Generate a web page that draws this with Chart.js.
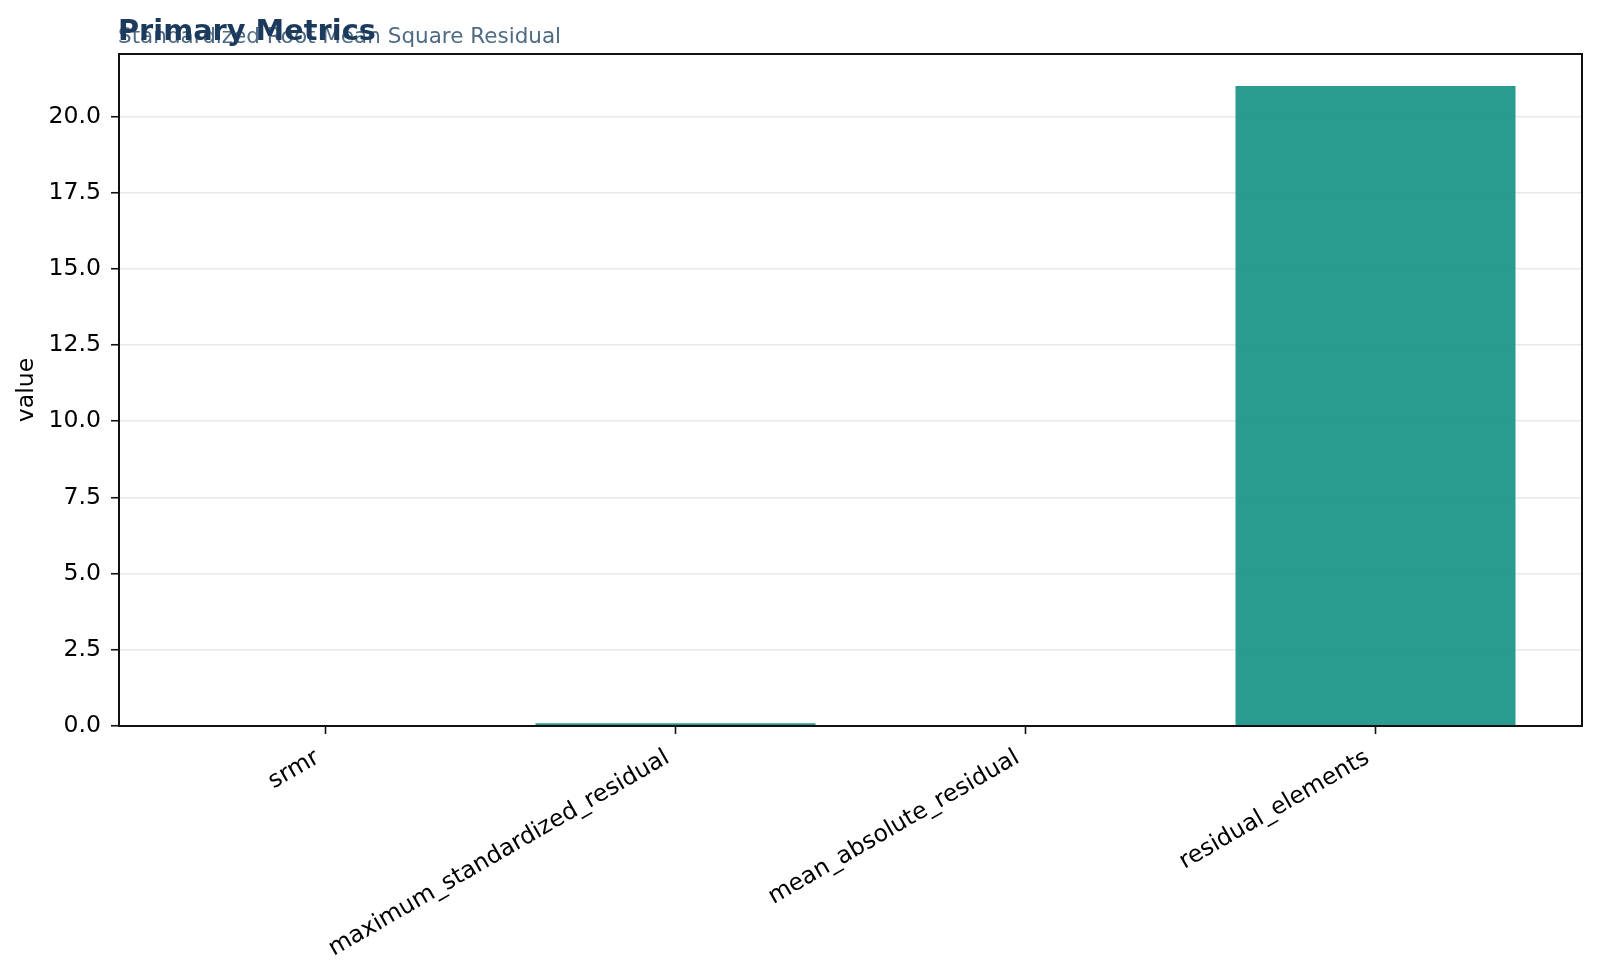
<!DOCTYPE html>
<html>
<head>
<meta charset="utf-8">
<title>Primary Metrics</title>
<script src="https://cdn.jsdelivr.net/npm/chart.js@4.4.1/dist/chart.umd.min.js"></script>
<style>
  html, body { margin: 0; padding: 0; background: #fff; }
  canvas { display: block; }
</style>
</head>
<body>
<canvas id="metricsChart" width="1600" height="978"></canvas>
<script>
// metrics shown on the x axis
const metricNames = [
  'srmr',
  'maximum_standardized_residual',
  'mean_absolute_residual',
  'residual_elements',
];
// values
const metricValues = [0.03, 0.09, 0.02, 21];
const yTickValues = [0, 2.5, 5, 7.5, 10, 12.5, 15, 17.5, 20];

const chartTitle = 'Primary Metrics';
const chartSubtitle = 'Standardized Root Mean Square Residual';

const FONT = '"DejaVu Sans", "Liberation Sans", sans-serif';
const TICK_SIZE = 23.6;

// matplotlib-like title pair + full frame round the plot
const framePlugin = {
  id: 'frame',
  afterDatasetsDraw(chart) {
    const { ctx, chartArea } = chart;
    ctx.save();
    ctx.strokeStyle = '#111';
    ctx.lineWidth = 2;
    ctx.strokeRect(chartArea.left, chartArea.top,
      chartArea.right - chartArea.left, chartArea.bottom - chartArea.top);
    ctx.restore();
  },
  afterDraw(chart) {
    const { ctx } = chart;
    ctx.save();
    ctx.textAlign = 'left';
    ctx.textBaseline = 'alphabetic';
    ctx.fillStyle = '#4f6b84';
    ctx.font = '21.5px ' + FONT;
    ctx.fillText(chartSubtitle, 118, 43);
    ctx.fillStyle = '#1b3a5c';
    ctx.font = 'bold 28.8px ' + FONT;
    ctx.fillText(chartTitle, 118, 40);
    ctx.restore();
  },
};

const ctx = document.getElementById('metricsChart').getContext('2d');
new Chart(ctx, {
  type: 'bar',
  data: {
    datasets: [
      {
        label: 'value',
        data: metricValues.map((v, i) => ({ x: i, y: v })),
        backgroundColor: 'rgba(23, 148, 133, 0.92)',
        borderWidth: 0,
        barPercentage: 0.8,
        categoryPercentage: 1,
      },
    ],
  },
  options: {
    responsive: false,
    animation: false,
    devicePixelRatio: 1,
    layout: { padding: { top: 54, right: 18, left: 0, bottom: 0 } },
    plugins: {
      legend: { display: false },
      tooltip: { enabled: false },
    },
    scales: {
      x: {
        type: 'linear',
        min: -0.59,
        max: 3.59,
        offset: false,
        afterBuildTicks: scale => {
          scale.ticks = metricNames.map((_, i) => ({ value: i }));
        },
        afterFit: scale => {
          scale.height = 252;
        },
        grid: {
          offset: false,
          drawOnChartArea: false,
          drawTicks: true,
          tickLength: 8,
          tickColor: '#111',
          tickWidth: 1.6,
        },
        border: { color: '#111', width: 2 },
        ticks: {
          autoSkip: false,
          minRotation: 30,
          maxRotation: 30,
          padding: 10,
          labelOffset: -8,
          color: '#000',
          font: { family: FONT, size: TICK_SIZE },
          callback: value => metricNames[value],
        },
      },
      y: {
        min: 0,
        max: 22.05,
        afterBuildTicks: scale => {
          scale.ticks = yTickValues.map(v => ({ value: v }));
        },
        afterFit: scale => {
          scale.width = 119;
        },
        grid: {
          color: '#e9e9e9',
          lineWidth: 1.5,
          drawTicks: true,
          tickLength: 8,
          tickColor: '#111',
          tickWidth: 1.6,
        },
        border: { color: '#111', width: 2 },
        ticks: {
          padding: 10,
          color: '#000',
          font: { family: FONT, size: TICK_SIZE },
          callback: value => Number(value).toFixed(1),
        },
        title: {
          display: true,
          text: 'value',
          color: '#000',
          font: { family: FONT, size: TICK_SIZE },
          padding: { top: 13, bottom: 0 },
        },
      },
    },
  },
  plugins: [framePlugin],
});
</script>
</body>
</html>
